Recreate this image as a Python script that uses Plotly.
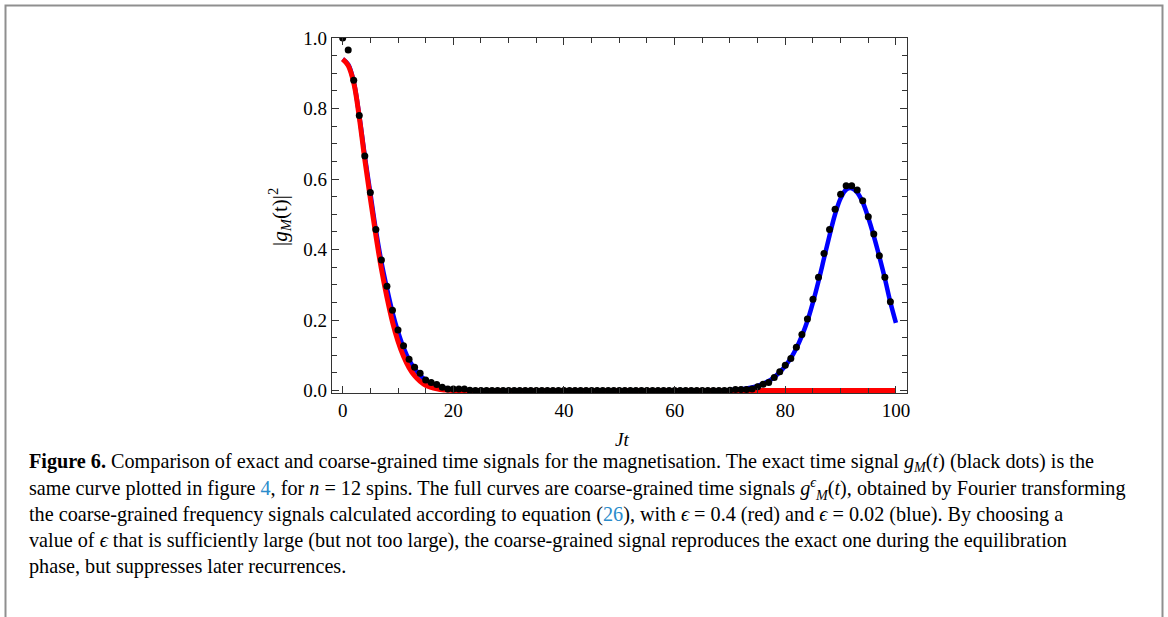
import plotly.graph_objects as go

# ---------------- data ----------------
t_dots = list(range(0, 100))
exact_dots = [
    1.000, 0.966, 0.880, 0.780, 0.665, 0.562, 0.457, 0.370, 0.296, 0.228,
    0.172, 0.127, 0.089, 0.066, 0.049, 0.030, 0.023, 0.017, 0.009, 0.004,
    0.004, 0.004, 0.004, 0.001, 0.000, 0.000, 0.000, 0.000, 0.000, 0.000,
    0.000, 0.000, 0.000, 0.000, 0.000, 0.000, 0.000, 0.000, 0.000, 0.000,
    0.000, 0.000, 0.000, 0.000, 0.000, 0.000, 0.000, 0.000, 0.000, 0.000,
    0.000, 0.000, 0.000, 0.000, 0.000, 0.000, 0.000, 0.000, 0.000, 0.000,
    0.000, 0.000, 0.000, 0.000, 0.000, 0.000, 0.000, 0.000, 0.000, 0.000,
    0.001, 0.003, 0.003, 0.003, 0.004, 0.011, 0.018, 0.023, 0.037, 0.053,
    0.072, 0.091, 0.123, 0.159, 0.203, 0.259, 0.321, 0.389, 0.457, 0.514,
    0.557, 0.581, 0.581, 0.569, 0.538, 0.493, 0.444, 0.382, 0.321, 0.252,
]

t_curve = list(range(0, 101))
blue_curve = [
    0.940, 0.925, 0.876, 0.780, 0.665, 0.560, 0.455, 0.365, 0.290, 0.222,
    0.167, 0.122, 0.087, 0.062, 0.043, 0.029, 0.019, 0.012, 0.008, 0.005,
    0.003, 0.002, 0.001, 0.000, 0.000, 0.000, 0.000, 0.000, 0.000, 0.000,
    0.000, 0.000, 0.000, 0.000, 0.000, 0.000, 0.000, 0.000, 0.000, 0.000,
    0.000, 0.000, 0.000, 0.000, 0.000, 0.000, 0.000, 0.000, 0.000, 0.000,
    0.000, 0.000, 0.000, 0.000, 0.000, 0.000, 0.000, 0.000, 0.000, 0.000,
    0.000, 0.000, 0.000, 0.000, 0.000, 0.000, 0.000, 0.000, 0.000, 0.000,
    0.001, 0.002, 0.004, 0.006, 0.009, 0.013, 0.019, 0.027, 0.038, 0.052,
    0.070, 0.092, 0.120, 0.155, 0.197, 0.250, 0.310, 0.375, 0.440, 0.500,
    0.545, 0.570, 0.574, 0.562, 0.534, 0.490, 0.438, 0.380, 0.318, 0.250,
    0.192,
]
red_curve = [
    0.940, 0.922, 0.873, 0.775, 0.655, 0.545, 0.440, 0.345, 0.265, 0.195,
    0.140, 0.097, 0.065, 0.042, 0.026, 0.015, 0.009, 0.005, 0.002, 0.001,
    0.000, 0.000, 0.000, 0.000, 0.000, 0.000, 0.000, 0.000, 0.000, 0.000,
    0.000, 0.000, 0.000, 0.000, 0.000, 0.000, 0.000, 0.000, 0.000, 0.000,
    0.000, 0.000, 0.000, 0.000, 0.000, 0.000, 0.000, 0.000, 0.000, 0.000,
    0.000, 0.000, 0.000, 0.000, 0.000, 0.000, 0.000, 0.000, 0.000, 0.000,
    0.000, 0.000, 0.000, 0.000, 0.000, 0.000, 0.000, 0.000, 0.000, 0.000,
    0.000, 0.000, 0.000, 0.000, 0.000, 0.000, 0.000, 0.000, 0.000, 0.000,
    0.000, 0.000, 0.000, 0.000, 0.000, 0.000, 0.000, 0.000, 0.000, 0.000,
    0.000, 0.000, 0.000, 0.000, 0.000, 0.000, 0.000, 0.000, 0.000, 0.000,
    0.000,
]

x_ticks = [0, 20, 40, 60, 80, 100]
y_ticks = [0.0, 0.2, 0.4, 0.6, 0.8, 1.0]

caption_lines = [
    "<b>Figure 6.</b> Comparison of exact and coarse-grained time signals for the magnetisation. "
    "The exact time signal <i>g<sub>M</sub></i>(<i>t</i>) (black dots) is the",
    "same curve plotted in figure <span style='color:#2b8ccb'>4</span>, for <i>n</i> = 12 spins. "
    "The full curves are coarse-grained time signals <i>g<sup>ϵ</sup><sub>M</sub></i>(<i>t</i>), "
    "obtained by Fourier transforming",
    "the coarse-grained frequency signals calculated according to equation "
    "(<span style='color:#2b8ccb'>26</span>), with <i>ϵ</i> = 0.4 (red) and <i>ϵ</i> = 0.02 (blue). By choosing a",
    "value of <i>ϵ</i> that is sufficiently large (but not too large), the coarse-grained signal "
    "reproduces the exact one during the equilibration",
    "phase, but suppresses later recurrences.",
]

# ---------------- layout geometry (pixels) ----------------
W, H = 1168, 617
L, R, T, B = 332, 907, 38, 393


def px_x(p):
    return (p - L) / (R - L)


def px_y(p):
    return (B - p) / (B - T)


SERIF = "Liberation Serif, Times New Roman, serif"

fig = go.Figure()
fig.add_trace(go.Scatter(x=t_curve, y=blue_curve, mode="lines",
                         line=dict(color="#0000ff", width=4.5, shape="spline"),
                         showlegend=False))
fig.add_trace(go.Scatter(x=t_curve, y=red_curve, mode="lines",
                         line=dict(color="#ff0000", width=5, shape="spline"),
                         showlegend=False))
fig.add_trace(go.Scatter(x=t_dots, y=exact_dots, mode="markers",
                         marker=dict(color="black", size=7),
                         showlegend=False))

axis_common = dict(
    showline=True, linecolor="#333333", linewidth=1.2, mirror="ticks",
    ticks="inside", ticklen=7, tickwidth=1, tickcolor="#333333",
    showgrid=False, zeroline=False,
    tickfont=dict(family=SERIF, size=19, color="black"),
)

fig.update_xaxes(range=[-1.93, 102.0], tickvals=x_ticks,
                 minor=dict(dtick=5, tick0=0, ticks="inside", ticklen=4.5,
                            tickcolor="#333333", showgrid=False),
                 **axis_common)
fig.update_yaxes(range=[-0.007, 1.0], tickvals=y_ticks, tickformat=".1f",
                 minor=dict(dtick=0.05, tick0=0, ticks="inside", ticklen=4.5,
                            tickcolor="#333333", showgrid=False),
                 **axis_common)

annotations = [
    dict(x=px_x(279), y=px_y(217), xref="paper", yref="paper",
         xanchor="center", yanchor="middle",
         text="|<i>g<sub>M</sub></i>(t)|<sup>2</sup>", textangle=-90,
         showarrow=False, font=dict(family=SERIF, size=21, color="black")),
    dict(x=px_x(622), y=px_y(439), xref="paper", yref="paper",
         xanchor="center", yanchor="middle", borderpad=0,
         text="<i>Jt</i>", showarrow=False,
         font=dict(family=SERIF, size=19, color="black")),
]
cap_y = [462, 488, 514, 540, 566]
for line, yy in zip(caption_lines, cap_y):
    annotations.append(dict(
        x=px_x(28), y=px_y(yy), xref="paper", yref="paper",
        xanchor="left", yanchor="middle", align="left", borderpad=0,
        text=line, showarrow=False,
        font=dict(family=SERIF, size=20.2, color="black")))

shapes = [
    dict(type="rect", xref="paper", yref="paper",
         x0=px_x(5.5), x1=px_x(1162.5), y0=px_y(5.5), y1=px_y(660),
         line=dict(color="#8f8f8f", width=2), fillcolor="rgba(0,0,0,0)",
         layer="below"),
]

fig.update_layout(
    width=W, height=H,
    margin=dict(l=L, r=W - R, t=T, b=H - B, pad=0),
    paper_bgcolor="white", plot_bgcolor="white",
    annotations=annotations, shapes=shapes,
    font=dict(family=SERIF),
)

fig.write_html("out.html",
               config={"displayModeBar": False},
               post_script="document.body.style.margin='0';"
                           "document.body.style.overflow='hidden';")
